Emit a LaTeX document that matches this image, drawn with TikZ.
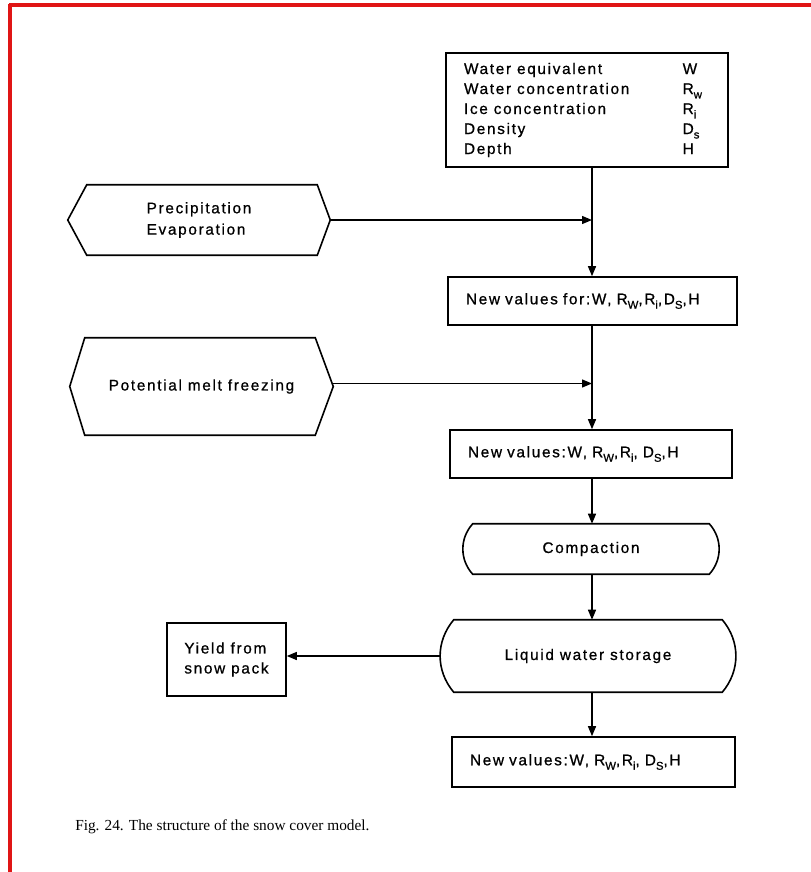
\documentclass[tikz,border=0pt]{standalone}
\usepackage{fontspec}
\setmainfont{Liberation Serif}
\newfontfamily\diagfont[LetterSpace=11,FakeBold=0.8]{Liberation Sans}
\usetikzlibrary{arrows.meta,calc}
\newcommand\sbs[1]{\raisebox{-0.55ex}{\fontsize{8.5}{10}\selectfont #1}}
\definecolor{framered}{HTML}{E01515}
\begin{document}
\begin{tikzpicture}[x=0.75pt,y=-0.75pt,
  txt/.style={font=\diagfont\fontsize{11.5}{15}\selectfont},
  box/.style={txt, draw, line width=1.2pt, rectangle, inner sep=0pt},
  lbox/.style={box, align=left, inner xsep=13.5pt},
  ghost/.style={txt, inner sep=0pt},
  outline/.style={line width=1.2pt, line join=miter},
  conn/.style={line width=1pt},
  arr/.style={conn, -{Triangle[length=7.5pt,width=6pt]}}]

\useasboundingbox (0,0) rectangle (811,872);

% frame lines
\draw[framered, line width=2.4pt] (9,5) -- (811,5);
\draw[framered, line width=2.4pt] (10,4) -- (10,872);

\coordinate (trunk) at (592,0);

% state box
\node[box, minimum width=211.5pt, minimum height=85.5pt] (state) at (587,110)
 {\begin{tabular}{@{}p{164pt}@{}l@{}}
  Water equivalent & W\\
  Water concentration & R\sbs{w}\\
  Ice concentration & R\sbs{i}\\
  Density & D\sbs{s}\\
  Depth & H
  \end{tabular}\hspace*{6pt}};

% hexagon 1
\node[ghost, minimum width=196.5pt, minimum height=52.5pt, align=left,
      font=\diagfont\fontsize{11.5}{16}\selectfont] (hex1) at (199,220)
 {Precipitation\\Evaporation};
\draw[outline] (hex1.west) -- ($(hex1.north west)+(19,0)$) -- ($(hex1.north east)+(-13,0)$)
  -- (hex1.east) -- ($(hex1.south east)+(-13,0)$) -- ($(hex1.south west)+(19,0)$) -- cycle;

% update 1
\node[lbox, text width=216.75pt-27pt, minimum height=36pt] (upd1) at (592.5,301)
 {\mbox{New values for:W, R\sbs{W},R\sbs{i},D\sbs{S},H}};

% hexagon 2
\node[ghost, minimum width=197.25pt, minimum height=72.75pt] (hex2) at (201.5,386.5)
 {Potential melt freezing};
\draw[outline] (hex2.west) -- ($(hex2.north west)+(15,0)$) -- ($(hex2.north east)+(-18,0)$)
  -- (hex2.east) -- ($(hex2.south east)+(-18,0)$) -- ($(hex2.south west)+(15,0)$) -- cycle;

% update 2
\node[lbox, text width=211.5pt-27pt, minimum height=36pt] (upd2) at (591,454)
 {\mbox{New values:W, R\sbs{W},R\sbs{i}, D\sbs{S},H}};

% compaction
\node[ghost, minimum width=192pt, minimum height=37.5pt] (compact) at (591,549) {Compaction};
\draw[outline] ($(compact.north west)+(10,0)$) -- ($(compact.north east)+(-10,0)$)
  to[bend left=42] ($(compact.south east)+(-10,0)$) -- ($(compact.south west)+(10,0)$)
  to[bend left=42] ($(compact.north west)+(10,0)$) -- cycle;

% liquid water storage
\node[ghost, minimum width=220.5pt, minimum height=54pt] (liquid) at (588,656) {Liquid water storage};
\draw[outline] ($(liquid.north west)+(13,0)$) -- ($(liquid.north east)+(-13,0)$)
  to[bend left=40] ($(liquid.south east)+(-13,0)$) -- ($(liquid.south west)+(13,0)$)
  to[bend left=40] ($(liquid.north west)+(13,0)$) -- cycle;

% yield
\node[box, align=left, minimum width=89.25pt, minimum height=54.75pt] (yield) at (226.5,659.5)
 {Yield from\\snow pack};

% update 3
\node[lbox, text width=212.25pt-27pt, minimum height=37.5pt] (upd3) at (593.5,762)
 {\mbox{New values:W, R\sbs{W},R\sbs{i}, D\sbs{S},H}};

% connectors
\draw[arr] (state.south -| trunk) -- (upd1.north -| trunk);
\draw[arr] (hex1.east) -- (hex1.east -| trunk);
\draw[arr] (upd1.south -| trunk) -- (upd2.north -| trunk);
\draw[arr] ($(hex2.east)+(0,-3)$) -- ($(hex2.east -| trunk)+(0,-3)$);
\draw[arr] (upd2.south -| trunk) -- (compact.north -| trunk);
\draw[arr] (compact.south -| trunk) -- (liquid.north -| trunk);
\draw[arr] (liquid.west) -- (liquid.west -| yield.east);
\draw[arr] (liquid.south -| trunk) -- (upd3.north -| trunk);

% caption
\node[anchor=west, inner sep=0pt, font=\fontsize{11.5}{14}\selectfont] (caption) at (75,827)
 {Fig. 24. The structure of the snow cover model.};
\end{tikzpicture}
\end{document}
